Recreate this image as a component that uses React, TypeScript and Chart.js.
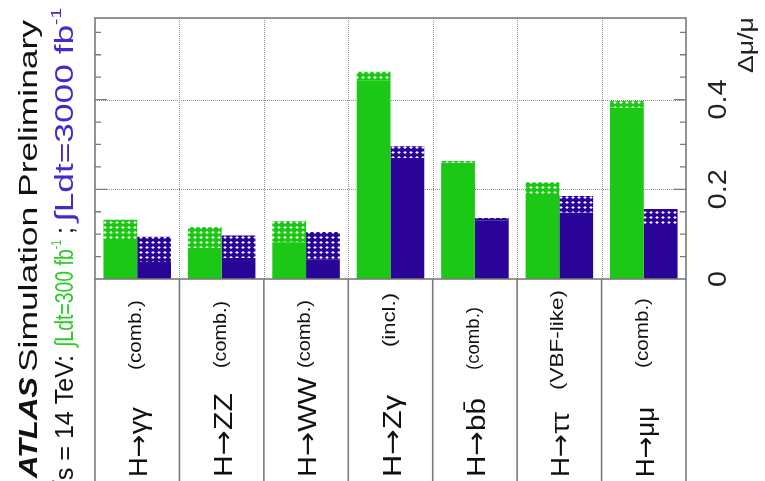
import React, { useEffect, useRef } from "react";
import { Chart, registerables } from "chart.js";

Chart.register(...registerables);

// ---- data ----
const processes = ["γγ", "ZZ", "WW", "Zγ", "bb̄", "ττ", "μμ"];
const categories = processes.map((p) => "H→" + p);
const annotations = ["(comb.)", "(comb.)", "(comb.)", "(incl.)", "(comb.)", "(VBF-like)", "(comb.)"];
// 300 fb-1 : solid part and total (hatched top)
const green300Solid = [0.087, 0.069, 0.082, 0.442, 0.259, 0.185, 0.382];
const green300Total = [0.132, 0.116, 0.129, 0.462, 0.263, 0.216, 0.397];
// 3000 fb-1
const blue3000Solid = [0.038, 0.047, 0.043, 0.270, 0.130, 0.148, 0.118];
const blue3000Total = [0.094, 0.097, 0.105, 0.296, 0.136, 0.185, 0.156];
const yTickLabels = [0, 0.2, 0.4];
const yMinorStep = 0.05;
const yMax = 0.582;

const GREEN = "rgb(28,200,22)";
const BLUE = "rgb(42,4,150)";
const GREEN_TXT = "rgb(45,205,40)";
const BLUE_TXT = "rgb(70,40,205)";
const FRAME = "#7a7a7a";
const FONT = "'Liberation Sans', Arial, sans-serif";
const ARROW_FONT = "'DejaVu Sans', sans-serif";

// layout of rotated texts (screen y where each label starts / ends)
const mainLabelTop = [407, 393, 377, 395, 398, 412, 407];
const annotationSpan: [number, number][] = [
  [370, 300], [368, 301], [368, 300], [347, 293], [370, 307], [390, 290], [368, 298],
];

function makePattern(color: string): CanvasPattern | string {
  const c = document.createElement("canvas");
  c.width = 6;
  c.height = 5;
  const g = c.getContext("2d");
  if (!g) return color;
  g.fillStyle = color;
  g.fillRect(0, 0, 6, 5);
  g.fillStyle = "rgba(255,255,255,0.55)";
  g.fillRect(1, 2, 4, 1);
  g.fillRect(2, 1, 2, 3);
  g.fillStyle = "#ffffff";
  g.fillRect(2, 2, 2, 1);
  const p = g.createPattern(c, "repeat");
  return p || color;
}

type Part = { t: string; font: string; color: string; dy?: number };

// Draw rotated text (reading bottom-to-top) whose baseline is at screen x,
// spanning from screen y0 (start) up to y1 (end).
function rotFit(ctx: CanvasRenderingContext2D, x: number, y0: number, y1: number, parts: Part[]) {
  ctx.save();
  ctx.textBaseline = "alphabetic";
  ctx.textAlign = "left";
  let total = 0;
  for (const p of parts) {
    ctx.font = p.font;
    total += ctx.measureText(p.t).width;
  }
  const stretch = (y0 - y1) / total;
  ctx.translate(x, y0);
  ctx.rotate(-Math.PI / 2);
  ctx.scale(stretch, 1);
  let cx = 0;
  for (const p of parts) {
    ctx.font = p.font;
    ctx.fillStyle = p.color;
    ctx.fillText(p.t, cx, p.dy || 0);
    cx += ctx.measureText(p.t).width;
  }
  ctx.restore();
}

const decoPlugin = {
  id: "deco",
  beforeDatasetsDraw(chart: any) {
    const { ctx, chartArea, scales } = chart;
    const x = scales.x;
    const y = scales.y;
    const catW = x.getPixelForValue(1) - x.getPixelForValue(0);
    ctx.save();
    ctx.strokeStyle = "#8f8f8f";
    ctx.lineWidth = 1;
    ctx.setLineDash([1, 1]);
    for (const v of yTickLabels) {
      if (v === 0) continue;
      const py = Math.round(y.getPixelForValue(v)) + 0.5;
      ctx.beginPath();
      ctx.moveTo(chartArea.left, py);
      ctx.lineTo(chartArea.right, py);
      ctx.stroke();
    }
    for (let i = 1; i < categories.length; i++) {
      const px = Math.round(x.getPixelForValue(i) - catW / 2) + 0.5;
      ctx.beginPath();
      ctx.moveTo(px, chartArea.top);
      ctx.lineTo(px, chartArea.bottom);
      ctx.stroke();
    }
    ctx.restore();
  },
  afterDatasetsDraw(chart: any) {
    const { ctx, chartArea, scales, height } = chart;
    const x = scales.x;
    const y = scales.y;
    const catW = x.getPixelForValue(1) - x.getPixelForValue(0);
    ctx.save();
    ctx.strokeStyle = FRAME;
    ctx.lineWidth = 1.6;
    ctx.setLineDash([]);
    ctx.strokeRect(chartArea.left, chartArea.top, chartArea.right - chartArea.left, chartArea.bottom - chartArea.top);
    for (let i = 0; i <= categories.length; i++) {
      const px = x.getPixelForValue(i) - catW / 2;
      ctx.beginPath();
      ctx.moveTo(px, chartArea.bottom);
      ctx.lineTo(px, height + 2);
      ctx.stroke();
    }
    ctx.lineWidth = 1.3;
    for (let v = yMinorStep; v < yMax; v += yMinorStep) {
      const isMajor = yTickLabels.some((t) => Math.abs(t - v) < 1e-6);
      const len = isMajor ? 12 : 6;
      const py = y.getPixelForValue(v);
      ctx.beginPath();
      ctx.moveTo(chartArea.left, py);
      ctx.lineTo(chartArea.left + len, py);
      ctx.moveTo(chartArea.right, py);
      ctx.lineTo(chartArea.right - len, py);
      ctx.stroke();
    }
    ctx.restore();
  },
  afterDraw(chart: any) {
    const { ctx, scales } = chart;
    const x = scales.x;
    const y = scales.y;
    // y tick labels (right side, rotated)
    for (const v of yTickLabels) {
      const py = y.getPixelForValue(v);
      const label = v === 0 ? "0" : v.toFixed(1);
      const half = v === 0 ? 8 : 20;
      rotFit(ctx, 726, py + half, py - half, [{ t: label, font: `26px ${FONT}`, color: "#222" }]);
    }
    // axis title
    rotFit(ctx, 753, 73, 17, [{ t: "Δμ/μ", font: `22px ${FONT}`, color: "#222" }]);
    // category labels
    processes.forEach((p, i) => {
      const cx = x.getPixelForValue(i);
      rotFit(ctx, cx + 10, 477, mainLabelTop[i], [
        { t: "H", font: `26px ${FONT}`, color: "#111" },
        { t: "→", font: `26px ${ARROW_FONT}`, color: "#111" },
        { t: p, font: `26px ${FONT}`, color: "#111" },
      ]);
      const [a0, a1] = annotationSpan[i];
      rotFit(ctx, cx + 4, a0, a1, [{ t: annotations[i], font: `19px ${FONT}`, color: "#111" }]);
    });
    // header lines
    rotFit(ctx, 37, 478, 377, [{ t: "ATLAS", font: `italic bold 26px ${FONT}`, color: "#111" }]);
    rotFit(ctx, 37, 372, 20, [{ t: "Simulation Preliminary", font: `26px ${FONT}`, color: "#111" }]);
    rotFit(ctx, 73, 494, 355, [{ t: "√s = 14 TeV:", font: `26px ${FONT}`, color: "#111" }]);
    rotFit(ctx, 73, 347, 240, [
      { t: "∫Ldt=300 fb", font: `26px ${FONT}`, color: GREEN_TXT },
      { t: "-1", font: `14px ${FONT}`, color: GREEN_TXT, dy: -12 },
    ]);
    rotFit(ctx, 73, 234, 227, [{ t: ";", font: `26px ${FONT}`, color: "#111" }]);
    rotFit(ctx, 73, 222, 8, [
      { t: "∫Ldt=3000 fb", font: `26px ${FONT}`, color: BLUE_TXT },
      { t: "-1", font: `14px ${FONT}`, color: BLUE_TXT, dy: -12 },
    ]);
  },
};

export default function App() {
  const ref = useRef<HTMLCanvasElement | null>(null);
  useEffect(() => {
    const canvas = ref.current;
    if (!canvas) return;
    const gP = makePattern(GREEN);
    const bP = makePattern(BLUE);
    const chart = new Chart(canvas, {
      type: "bar",
      data: {
        labels: categories,
        datasets: [
          { label: "300 solid", data: green300Solid, backgroundColor: GREEN, stack: "g", borderWidth: 0 },
          { label: "300 total", data: green300Total.map((t, i) => t - green300Solid[i]), backgroundColor: gP as any, stack: "g", borderWidth: 0 },
          { label: "3000 solid", data: blue3000Solid, backgroundColor: BLUE, stack: "b", borderWidth: 0 },
          { label: "3000 total", data: blue3000Total.map((t, i) => t - blue3000Solid[i]), backgroundColor: bP as any, stack: "b", borderWidth: 0 },
        ],
      },
      options: {
        responsive: false,
        animation: false,
        devicePixelRatio: 1,
        layout: { padding: { left: 95, right: 79, top: 18, bottom: 202 } },
        datasets: { bar: { categoryPercentage: 0.8, barPercentage: 1.0 } },
        plugins: { legend: { display: false }, tooltip: { enabled: false } },
        scales: {
          x: { display: false, stacked: true, offset: true },
          y: { display: false, stacked: true, min: 0, max: yMax },
        },
      },
      plugins: [decoPlugin],
    });
    return () => chart.destroy();
  }, []);
  return (
    <div style={{ position: "fixed", left: 0, top: 0, width: 765, height: 481, background: "#fff" }}>
      <canvas ref={ref} width={765} height={481} style={{ display: "block" }} />
    </div>
  );
}
